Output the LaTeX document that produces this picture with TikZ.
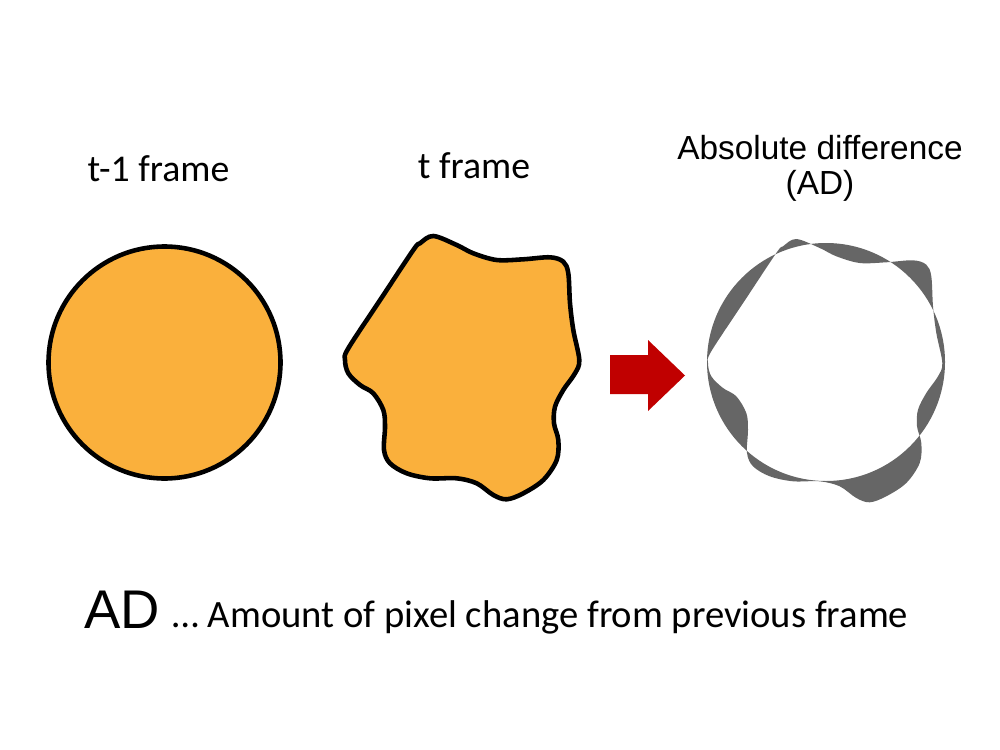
\documentclass[tikz,border=0pt]{standalone}
\usepackage{fontspec}
\setmainfont{Carlito}
\newfontfamily\helvfont{Liberation Sans}
\usetikzlibrary{positioning}
\definecolor{frameorange}{HTML}{FAB03C}
\definecolor{adgray}{HTML}{666666}
\definecolor{arrowred}{HTML}{C00000}

% outline of the t frame, shifted by #1,#2
\newcommand{\blobshape}[2]{plot[smooth cycle, tension=0.55] coordinates {
  (#1+420,#2+243.3) (#1+433.3,#2+236) (#1+456.7,#2+245) (#1+473.3,#2+253.3)
  (#1+496.7,#2+260) (#1+523.3,#2+259.3) (#1+550,#2+257.3) (#1+563.3,#2+261.7)
  (#1+568.3,#2+273.3) (#1+570,#2+303.3) (#1+573.3,#2+330) (#1+579.3,#2+360)
  (#1+575,#2+373.3) (#1+563.3,#2+390) (#1+555,#2+406.7) (#1+554,#2+423.3)
  (#1+558.3,#2+440) (#1+556.7,#2+460) (#1+543.3,#2+480) (#1+523.3,#2+493.3)
  (#1+506.7,#2+499.3) (#1+493.3,#2+495) (#1+476.7,#2+483.3) (#1+456.7,#2+478.3)
  (#1+430,#2+478.3) (#1+406.7,#2+473.3) (#1+390,#2+463.3) (#1+384,#2+450)
  (#1+385,#2+426.7) (#1+383.3,#2+410) (#1+373.3,#2+393.3) (#1+360,#2+385)
  (#1+348.3,#2+373.3) (#1+345,#2+360) (#1+348.3,#2+348.3) (#1+380.8,#2+299)
  (#1+413.3,#2+250)}}

\begin{document}
\begin{tikzpicture}[
    x=0.02cm, y=-0.02cm,
    framelabel/.style={font=\fontsize{21.5}{25}\selectfont, anchor=base, inner sep=0pt},
    shapeline/.style={draw=black, line width=2.6pt, fill=frameorange},
]

\useasboundingbox (0,0) rectangle (1000,750);

% Labels
\node[framelabel] (prevlabel) at (158.5,181) {t-1 frame};
\node[framelabel] (curlabel) at (474,178) {t frame};
\node[font=\helvfont\fontsize{19}{19.5}\selectfont, align=center, anchor=base, inner sep=0pt] (adlabel) at (820,194) {Absolute difference\\(AD)};

% Frames
\draw[shapeline] (164.5,362.5) circle[radius=116];
\draw[shapeline] \blobshape{0}{0};

% Arrow
\fill[arrowred] (610,355) -- (648,355) -- (648,340) -- (685,375.5) -- (648,411) -- (648,394) -- (610,394) -- cycle;

% Difference
\fill[adgray, even odd rule] (826,362) circle[radius=119] \blobshape{363}{3};

% Caption
\node[font=\helvfont\fontsize{31}{34}\selectfont, anchor=base west, inner sep=0pt] (adbig) at (84,628) {AD};
\node[font=\fontsize{22}{26}\selectfont, anchor=base west, inner sep=0pt] (addesc) at (172,627) {… Amount of pixel change from previous frame};

\end{tikzpicture}
\end{document}
